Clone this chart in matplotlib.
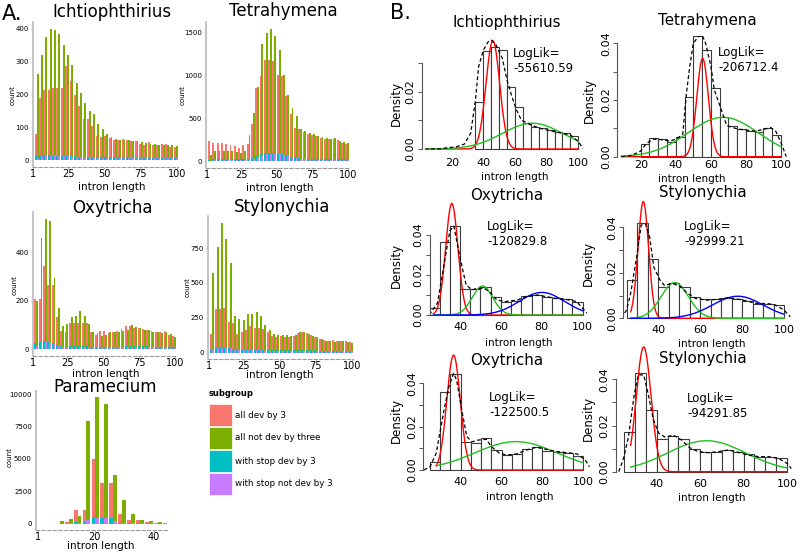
import matplotlib
matplotlib.use("Agg")
import matplotlib.pyplot as plt
from matplotlib.patches import Rectangle
import numpy as np

W, H = 800, 553
fig = plt.figure(figsize=(8, 5.53), dpi=100)

C_RED, C_GREEN, C_CYAN, C_PURPLE = "#F8766D", "#7CAE00", "#00BFC4", "#C77CFF"

# ---------------- panel A : counts per intron length ----------------
# red bar = length divisible by 3, green bar = neighbouring length
grp = np.arange(2, 99, 3)

ich_red = [80, 190, 215, 215, 220, 220, 220, 285, 240, 200, 165, 125, 125, 105, 75, 70, 75,
           68, 63, 62, 65, 63, 60, 58, 50, 48, 55, 48, 48, 50, 50, 42, 40]
ich_green = [263, 320, 375, 400, 397, 383, 350, 320, 290, 235, 205, 175, 150, 140, 110, 95, 80,
             70, 65, 63, 62, 62, 60, 58, 55, 52, 50, 50, 48, 48, 47, 46, 43]
ich_cyan = [12, 14, 15, 15, 14, 14, 13, 13, 12, 12, 11, 11, 10, 10, 10, 10, 9,
            9, 9, 9, 9, 9, 8, 8, 8, 8, 8, 8, 8, 8, 8, 8, 8]
ich_purple = [8, 12, 15, 16, 15, 14, 13, 12, 11, 10, 10, 9, 9, 8, 8, 8, 8,
              7, 7, 7, 7, 7, 7, 7, 7, 6, 6, 6, 6, 6, 6, 6, 6]

tet_red = [240, 215, 215, 215, 205, 195, 180, 160, 190, 205, 430, 850, 990, 1175, 1180, 1170, 1000,
           990, 760, 550, 385, 370, 340, 320, 310, 290, 270, 265, 255, 265, 250, 215, 200]
tet_green = [70, 125, 125, 125, 120, 120, 110, 100, 120, 310, 560, 860, 1360, 1490, 1540, 1460, 1290,
             1000, 770, 620, 530, 380, 350, 330, 320, 300, 280, 270, 265, 270, 240, 220, 210]
tet_cyan = [20, 22, 22, 22, 22, 22, 22, 22, 22, 25, 35, 60, 80, 95, 100, 100, 95,
            85, 70, 55, 45, 38, 34, 32, 30, 30, 28, 28, 28, 28, 27, 27, 26]
tet_purple = [10, 12, 12, 12, 12, 12, 12, 12, 12, 15, 25, 45, 65, 80, 90, 90, 85,
              75, 60, 45, 35, 28, 25, 22, 20, 20, 20, 20, 20, 20, 20, 20, 20]

oxy_red = [210, 210, 345, 265, 265, 135, 75, 70, 110, 110, 110, 108, 110, 70, 60, 75, 75,
           68, 70, 75, 85, 98, 95, 90, 90, 85, 82, 78, 70, 72, 78, 60, 55]
oxy_green = [200, 460, 540, 530, 295, 170, 95, 105, 135, 140, 160, 140, 105, 72, 68, 55, 60,
             70, 72, 72, 78, 80, 100, 92, 90, 82, 80, 72, 70, 68, 70, 62, 50]
oxy_cyan = [25, 30, 35, 30, 28, 20, 15, 15, 15, 15, 15, 15, 15, 12, 12, 12, 12,
            12, 12, 12, 12, 14, 14, 14, 14, 13, 13, 12, 12, 12, 12, 11, 10]
oxy_purple = [15, 25, 30, 28, 22, 15, 10, 10, 10, 10, 10, 10, 10, 9, 9, 9, 9,
              9, 9, 9, 9, 10, 10, 10, 10, 9, 9, 9, 9, 9, 9, 8, 8]

sty_red = [135, 315, 315, 320, 220, 210, 135, 150, 160, 190, 175, 175, 170, 150, 120, 110, 120,
           115, 110, 120, 140, 150, 140, 125, 115, 100, 90, 85, 90, 85, 80, 85, 75]
sty_green = [575, 760, 935, 815, 645, 265, 240, 235, 275, 280, 290, 260, 195, 160, 130, 125, 125,
             125, 120, 125, 145, 145, 130, 120, 110, 95, 80, 80, 75, 80, 80, 78, 70]
sty_cyan = [20, 35, 40, 40, 35, 25, 20, 20, 20, 20, 20, 20, 18, 16, 15, 15, 15,
            15, 15, 15, 16, 16, 16, 15, 15, 14, 13, 12, 12, 12, 12, 12, 11]
sty_purple = [15, 30, 35, 35, 30, 20, 15, 15, 15, 15, 15, 15, 14, 12, 12, 12, 12,
              12, 12, 12, 12, 12, 12, 12, 12, 11, 10, 10, 10, 10, 10, 10, 9]

par_grp = np.arange(7, 44, 3)
par_red = [0, 150, 1050, 1080, 5000, 3150, 3150, 750, 250, 250, 150, 50, 30]
par_green = [180, 350, 600, 7950, 9750, 9200, 3750, 1850, 750, 320, 200, 100, 40]
par_cyan = [0, 10, 100, 120, 550, 400, 400, 60, 20, 15, 10, 5, 0]
par_purple = [10, 20, 60, 300, 450, 450, 200, 80, 30, 15, 10, 5, 0]

legend_labels = ["all dev by 3", "all not dev by three", "with stop dev by 3", "with stop not dev by 3"]

# ---------------- panel B : histograms + mixture fits ----------------
b_titles = ["Ichtiophthirius", "Tetrahymena", "Oxytricha", "Stylonychia", "Oxytricha", "Stylonychia"]
b_loglik = ["-55610.59", "-206712.4", "-120829.8", "-92999.21", "-122500.5", "-94291.85"]
b_edges = [np.arange(35, 101, 5), np.arange(20, 101, 5)] + [np.arange(25, 101, 5)] * 4
b_dens = [
    [0.0165, 0.0343, 0.0357, 0.0345, 0.0215, 0.0145, 0.0092, 0.0078, 0.0072, 0.0066, 0.0058, 0.0055, 0.0045],
    [0.0044, 0.0065, 0.0061, 0.0051, 0.0071, 0.0212, 0.0424, 0.0376, 0.0241, 0.0141, 0.0108, 0.0096,
     0.0092, 0.0088, 0.0102, 0.0075],
    [0.0033, 0.0363, 0.0445, 0.013, 0.013, 0.0142, 0.0092, 0.0067, 0.0072, 0.0095, 0.010, 0.0092,
     0.0083, 0.0078, 0.0065],
    [0.0167, 0.0419, 0.0262, 0.0138, 0.0153, 0.0138, 0.0095, 0.0083, 0.0083, 0.009, 0.0086, 0.0077,
     0.0065, 0.0065, 0.0058],
    [0.0035, 0.0362, 0.0443, 0.0131, 0.0123, 0.0146, 0.0092, 0.0069, 0.0074, 0.0095, 0.0105, 0.0089,
     0.0085, 0.0077, 0.0065],
    [0.017, 0.0426, 0.0267, 0.014, 0.0156, 0.014, 0.0097, 0.0084, 0.0084, 0.0094, 0.0087, 0.0075,
     0.0065, 0.0065, 0.0058],
]
# dashed density line
b_kx = [
    [3, 13, 23, 28, 32, 35, 37, 40, 43, 45, 48, 52, 55, 58, 61, 64, 70, 76, 82, 88, 95, 100, 103],
    [9, 15, 20, 23, 27, 32, 37, 41, 44, 46, 48, 50, 53, 55, 57, 60, 62, 66, 69, 75, 80, 85, 90, 94, 97, 100, 103],
    [25, 29, 32, 35, 37, 38, 41, 43, 46, 48, 52, 55, 58, 62, 68, 73, 78, 82, 87, 92, 97, 100, 102],
    [22.5, 25, 27, 30, 32, 34, 36, 38, 41, 43, 47, 51, 54, 58, 63, 68, 73, 77, 82, 87, 92, 96, 100, 103],
    [22, 25, 28, 31.5, 34, 36.5, 38, 40.5, 43, 45.5, 48.5, 52.5, 55, 59, 62.5, 67.5, 72, 77, 82, 87, 92, 97, 101, 103],
    [22.5, 24.5, 27, 29.5, 31.5, 34, 36, 38.5, 41, 44, 47.5, 51.5, 55, 59, 64, 68.5, 73, 77.5, 82, 87, 91.5, 96, 100, 102],
]
b_ky = [
    [0, 0.0001, 0.0008, 0.0017, 0.0055, 0.017, 0.0287, 0.0345, 0.0374, 0.038, 0.0363, 0.0316, 0.024,
     0.0183, 0.0136, 0.0101, 0.0084, 0.0072, 0.0064, 0.0057, 0.0049, 0.0026, 0.0002],
    [0, 0.0005, 0.002, 0.0045, 0.0062, 0.006, 0.0055, 0.0065, 0.008, 0.022, 0.032, 0.040, 0.0425,
     0.043, 0.040, 0.032, 0.0235, 0.0165, 0.011, 0.0098, 0.0094, 0.009, 0.0096, 0.0103, 0.009, 0.005, 0],
    [0, 0.006, 0.024, 0.042, 0.0445, 0.039, 0.024, 0.015, 0.0125, 0.0133, 0.0133, 0.011, 0.0075,
     0.0067, 0.0075, 0.0095, 0.010, 0.0092, 0.0083, 0.0078, 0.0067, 0.0033, 0.001],
    [0, 0.0036, 0.011, 0.028, 0.041, 0.0415, 0.036, 0.0225, 0.0167, 0.0145, 0.0153, 0.0138, 0.011,
     0.0087, 0.008, 0.0083, 0.009, 0.0086, 0.0077, 0.0065, 0.0065, 0.0058, 0.0036, 0.0007],
    [0, 0.0015, 0.0077, 0.026, 0.0377, 0.0446, 0.0415, 0.0277, 0.0154, 0.013, 0.0138, 0.0142, 0.0108,
     0.0077, 0.0069, 0.0074, 0.0092, 0.0105, 0.0095, 0.0085, 0.008, 0.0074, 0.0046, 0.0015],
    [0, 0.005, 0.015, 0.0325, 0.0419, 0.0419, 0.034, 0.0224, 0.0166, 0.0149, 0.0159, 0.0137, 0.0105,
     0.0087, 0.0082, 0.0087, 0.0094, 0.0084, 0.0072, 0.0065, 0.0065, 0.0058, 0.0036, 0.0014],
]
# mixture components: (mean, sd, peak density)
b_comps = [
    [(46, 4.3, 0.0378), (71, 19, 0.009)],
    [(55.3, 3.3, 0.0347), (67, 20, 0.0139)],
    [(36, 3.0, 0.0558), (51, 5, 0.0145), (80, 11, 0.0113)],
    [(33, 2.5, 0.0513), (48, 6.5, 0.0157), (78, 12, 0.0097)],
    [(36.5, 3.3, 0.053), (67, 20, 0.0131)],
    [(34, 3.4, 0.054), (63, 18, 0.0134)],
]
b_start = [5, 9, 27, 27, 28, 28]
comp_cols = ["#ff0000", "#1fc01f", "#0000ff"]


def fx(x):
    return x / W


def fy(y):
    return 1 - y / H


def px_axes(l, t, r, b):
    return fig.add_axes([fx(l), fy(b), (r - l) / W, (b - t) / H])


def lims(va, pa, vb, pb, p0, p1):
    s = (pb - pa) / (vb - va)
    return va + (p0 - pa) / s, va + (p1 - pa) / s


def ftext(x, y, s, **kw):
    kw.setdefault("ha", "center")
    kw.setdefault("va", "center")
    fig.text(fx(x), fy(y), s, **kw)


def count_panel(box, xmap, x, bw, red, green, cyan, purple, yticks, xticks, xfs=7, yfs=5):
    ax = px_axes(*box)
    ax.bar(x, red, bw, align="edge", color=C_RED, lw=0)
    ax.bar(x + bw, green, bw, align="edge", color=C_GREEN, lw=0)
    ax.bar(x, cyan, bw, align="edge", color=C_CYAN, lw=0)
    ax.bar(x + bw, purple, bw, align="edge", color=C_PURPLE, lw=0)
    top = max(max(red), max(green))
    ax.set_ylim(-0.05 * top, 1.05 * top)
    ax.set_xlim(*lims(*xmap, box[0], box[2]))
    for s in ("top", "right"):
        ax.spines[s].set_visible(False)
    ax.spines["left"].set_color("#c4c4c4")
    ax.spines["left"].set_linewidth(1.4)
    ax.spines["bottom"].set_color("#9a9a9a")
    ax.spines["bottom"].set_linewidth(0.8)
    ax.spines["bottom"].set_linestyle((0, (3, 2)))
    ax.set_yticks(yticks)
    ax.set_yticklabels([str(v) for v in yticks])
    ax.set_xticks(xticks)
    ax.set_xticklabels([str(v) for v in xticks])
    ax.tick_params(axis="y", labelsize=yfs, length=1.5, width=0.5, color="#999999", pad=1.5)
    ax.tick_params(axis="x", labelsize=xfs, length=1.5, width=0.5, color="#999999", pad=0)
    return ax


# --- A panels
count_panel((33, 22, 178, 167), (1, 33.3, 100, 176.7), grp, 1.3,
            ich_red, ich_green, ich_cyan, ich_purple, [0, 100, 200, 300, 400], [1, 25, 50, 75, 100])
count_panel((206, 22, 349, 168), (1, 206.7, 100, 348.3), grp, 1.3,
            tet_red, tet_green, tet_cyan, tet_purple, [0, 500, 1000, 1500], [1, 25, 50, 75, 100])
count_panel((33, 212, 177, 356), (1, 31.7, 100, 175), grp, 1.3,
            oxy_red, oxy_green, oxy_cyan, oxy_purple, [0, 200, 400], [1, 25, 50, 75, 100])
count_panel((208, 216, 353, 359), (1, 209, 100, 352), grp, 1.3,
            sty_red, sty_green, sty_cyan, sty_purple, [0, 250, 500, 750], [1, 25, 50, 75, 100])
count_panel((36, 391, 167, 530), (1, 38, 40, 154), par_grp, 1.3,
            par_red, par_green, par_cyan, par_purple, [0, 2500, 5000, 7500, 10000], [1, 20, 40])

ftext(12, 14, "A.", fontsize=15)
for (x, y), t in zip([(112, 12), (283, 11), (112, 208), (282, 207), (105, 387)],
                     ["Ichtiophthirius", "Tetrahymena", "Oxytricha", "Stylonychia", "Paramecium"]):
    ftext(x, y, t, fontsize=12)
for x, y in [(112, 187), (280, 188), (106, 374), (280, 375), (101, 546)]:
    ftext(x, y, "intron length", fontsize=7.5)
for x, y in [(13, 95), (183, 95), (15, 285), (188, 287), (10, 457)]:
    ftext(x, y, "count", fontsize=5, rotation=90)

# legend
ftext(209, 394, "subgroup", fontsize=6, fontweight="bold", ha="left")
for i, (lab, col) in enumerate(zip(legend_labels, [C_RED, C_GREEN, C_CYAN, C_PURPLE])):
    top = 404 + i * 23
    fig.add_artist(Rectangle((fx(209), fy(top + 22)), 23 / W, 22 / H, transform=fig.transFigure,
                             facecolor=col, edgecolor="white", lw=0.5))
    ftext(235, top + 11, lab, fontsize=6.3, ha="left")


# ---------------- B panels ----------------
def mix_panel(i, box, xmap, ymap, xticks, ytop, xpad):
    ax = px_axes(*box)
    edges = b_edges[i]
    ax.bar(edges[:-1], b_dens[i], width=np.diff(edges), align="edge",
           facecolor="white", edgecolor="#3c3c3c", lw=0.8)
    xs = np.linspace(b_start[i], 100, 400)
    for (m, s, pk), col in zip(b_comps[i], comp_cols):
        ax.plot(xs, pk * np.exp(-0.5 * ((xs - m) / s) ** 2), color=col, lw=1.0, clip_on=False)
    ax.plot(b_kx[i], b_ky[i], color="black", ls=(0, (3, 2)), lw=0.9)
    ax.set_xlim(*lims(*xmap, box[0], box[2]))
    ax.set_ylim(*lims(*ymap, box[3], box[1]))
    for s in ("top", "right", "bottom"):
        ax.spines[s].set_visible(False)
    ax.spines["left"].set_bounds(0, ytop)
    ax.spines["left"].set_color("#555555")
    ax.spines["left"].set_linewidth(0.8)
    yt = np.round(np.arange(0, ytop + 1e-9, 0.01), 2)
    ax.set_yticks(yt)
    ax.set_yticklabels(["%.2f" % v if k % 2 == 0 else "" for k, v in enumerate(yt)],
                       rotation=90, va="center")
    ax.set_xticks(xticks)
    ax.set_xticklabels([str(v) for v in xticks])
    ax.tick_params(axis="y", labelsize=8, length=3, width=0.7, color="#555555", pad=1.5)
    ax.tick_params(axis="x", labelsize=8, length=0, pad=xpad)
    return ax


mix_panel(0, (422, 36, 586, 153), (20, 451.7, 100, 578.3), (0, 149, 0.02, 91.7),
          [20, 40, 60, 80, 100], 0.03, 3.8)
mix_panel(1, (617, 36, 790, 158), (20, 640.7, 100, 781), (0, 156.7, 0.04, 43.3),
          [20, 40, 60, 80, 100], 0.04, 1.8)
mix_panel(2, (430, 202, 590, 318), (40, 460, 100, 582.7), (0, 315, 0.04, 235),
          [40, 60, 80, 100], 0.04, 2.6)
mix_panel(3, (623, 200, 792, 321), (40, 658, 100, 784), (0, 318.3, 0.04, 227.3),
          [40, 60, 80, 100], 0.04, 3.2)
mix_panel(4, (423, 366, 591, 473), (40, 460.7, 100, 583.3), (0, 470, 0.04, 383.3),
          [40, 60, 80, 100], 0.04, 3.2)
mix_panel(5, (616, 366, 795, 475), (40, 656.7, 100, 787), (0, 471.7, 0.04, 379.3),
          [40, 60, 80, 100], 0.04, 3.2)

ftext(400, 13, "B.", fontsize=15)
for (x, y), t in zip([(507, 22), (707, 21), (507, 195), (703, 193), (507, 360), (703, 359)], b_titles):
    ftext(x, y, t, fontsize=10.8)
for (x, y), t in zip([(513, 61), (718, 60), (487, 234), (684, 234), (489, 405), (687, 406)], b_loglik):
    ftext(x, y, "LogLik=\n" + t, fontsize=8.5, ha="left", linespacing=1.15)
for x, y in [(515, 177), (692, 179), (519, 343), (712, 344), (520, 497), (712, 498)]:
    ftext(x, y, "intron length", fontsize=7.5)
for x, y in [(396, 103), (589, 100), (396, 265), (588, 263), (396, 420), (588, 418)]:
    ftext(x, y, "Density", fontsize=8.5, rotation=90)

fig.savefig("out.png", dpi=100)
